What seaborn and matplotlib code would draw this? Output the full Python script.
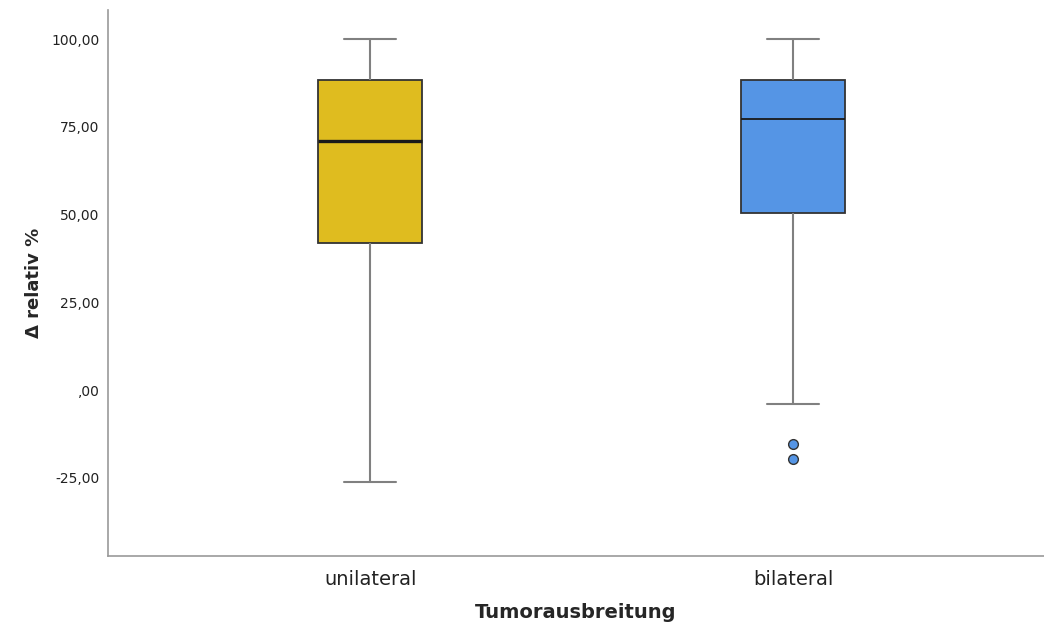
import numpy as np
import pandas as pd
import matplotlib
matplotlib.use("Agg")
import matplotlib.pyplot as plt
import seaborn as sns

# box statistics (Δ relativ %)
groups = ["unilateral", "bilateral"]
whisker_low = [-26.2, -4.0]
q1 = [41.9, 50.4]
median = [70.9, 77.2]
q3 = [88.3, 88.3]
whisker_high = [100.0, 100.0]
outliers = [[], [-15.4, -19.7]]
colors = ["#DFBC1F", "#5595E5"]
yticks = [-25, 0, 25, 50, 75, 100]
ytick_labels = ["-25,00", ",00", "25,00", "50,00", "75,00", "100,00"]


def sample_from_stats(lo, a, m, b, hi, outs):
    # repeated values so numpy's quartiles land exactly on the read stats
    k = len(outs) + 1
    rep = 3 * k
    return list(outs) + [lo] + [a] * rep + [m] + [b] * rep + [hi] * k


rows = []
for i, g in enumerate(groups):
    for v in sample_from_stats(whisker_low[i], q1[i], median[i], q3[i], whisker_high[i], outliers[i]):
        rows.append({"Tumorausbreitung": g, "delta": v})
df = pd.DataFrame(rows)

sns.set_style("white")
plt.rcParams["font.family"] = ["DejaVu Sans"]

fig = plt.figure(figsize=(10.44, 6.25), dpi=100)
ax = fig.add_axes([0.1034, 0.1104, 0.8966, 0.8736])

sns.boxplot(data=df, x="Tumorausbreitung", y="delta", hue="Tumorausbreitung",
            palette=colors, saturation=1, width=0.246, whis=1.5, linewidth=1.3,
            legend=False,
            boxprops=dict(edgecolor="#333333"),
            whiskerprops=dict(color="#808080", linewidth=1.5),
            capprops=dict(color="#808080", linewidth=1.5),
            medianprops=dict(color="#1a1a1a", linewidth=1.3),
            flierprops=dict(marker="o", markersize=7, markeredgecolor="#333333",
                            markeredgewidth=1.0),
            ax=ax)

# outlier fill matches box colour, unilateral median drawn heavier
for line in ax.lines:
    if line.get_marker() == "o":
        line.set_markerfacecolor(colors[1])
if len(ax.lines) > 4:
    ax.lines[4].set_linewidth(2.4)

ax.set_xlim(-0.62, 1.593)
ax.set_ylim(-47.3, 108.3)
ax.set_yticks(yticks)
ax.set_yticklabels(ytick_labels, fontsize=10, color="#222222")
ax.tick_params(axis="x", labelsize=14, length=0, pad=10, colors="#222222")
ax.tick_params(axis="y", length=0, pad=6)
ax.set_xlabel("Tumorausbreitung", fontsize=14, fontweight="bold", labelpad=10)
ax.set_ylabel("Δ relativ %", fontsize=13, fontweight="bold", labelpad=6)

for s in ["top", "right"]:
    ax.spines[s].set_visible(False)
for s in ["left", "bottom"]:
    ax.spines[s].set_color("#999999")
    ax.spines[s].set_linewidth(1.2)

plt.savefig("out.png", dpi=100)
